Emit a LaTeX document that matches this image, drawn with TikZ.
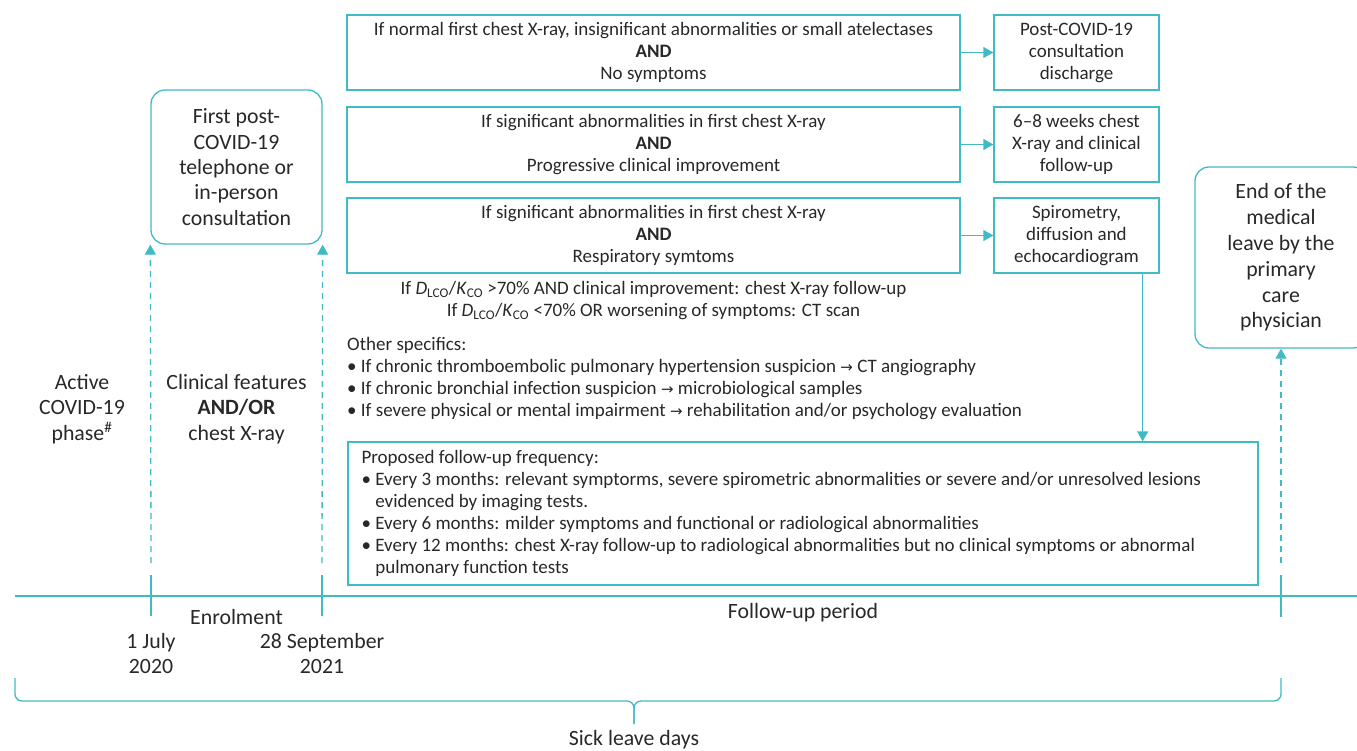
\documentclass[tikz,border=0pt]{standalone}
\usepackage{fontspec}
\setmainfont{Carlito}
\newfontfamily\dejavu{DejaVu Sans}
\usetikzlibrary{arrows.meta}
\definecolor{tealc}{RGB}{64,186,197}
\definecolor{txt}{RGB}{40,40,40}
\newcommand{\rarr}{{\dejavu\fontsize{15}{15}\selectfont →}}
\begin{document}
\begin{tikzpicture}[x=1pt,y=-1pt,
  sm/.style={font=\fontsize{19}{22}\selectfont, text=txt},
  bg/.style={font=\fontsize{21.8}{25.4}\selectfont, text=txt},
  cbox/.style={draw=tealc, line width=1.3pt, inner sep=0pt, align=center, sm},
  rbox/.style={draw=tealc, line width=1.3pt, inner sep=0pt, align=center, bg, rounded corners=14pt},
  arr/.style={draw=tealc, line width=1.3pt, -{Triangle[width=11pt,length=10pt]}},
  darr/.style={draw=tealc, line width=1.3pt, dash pattern=on 6pt off 5pt, -{Triangle[width=11pt,length=10pt]}},
  tline/.style={draw=tealc, line width=1.3pt},
]
\useasboundingbox (0,0) rectangle (1357,751);

% condition boxes
\node[cbox, minimum width=613, minimum height=75] (c1) at (653.5,52.5)
  {If normal first chest X-ray, insignificant abnormalities or small atelectases\\\textbf{AND}\\No symptoms};
\node[cbox, minimum width=613, minimum height=75] (c2) at (653.5,144.5)
  {If significant abnormalities in first chest X-ray\\\textbf{AND}\\Progressive clinical improvement};
\node[cbox, minimum width=613, minimum height=75] (c3) at (653.5,235.5)
  {If significant abnormalities in first chest X-ray\\\textbf{AND}\\Respiratory symtoms};

% result boxes
\node[cbox, minimum width=165, minimum height=75] (r1) at (1076.5,52.5)
  {Post-COVID-19\\consultation\\discharge};
\node[cbox, minimum width=165, minimum height=75] (r2) at (1076.5,144.5)
  {6--8 weeks chest\\X-ray and clinical\\follow-up};
\node[cbox, minimum width=165, minimum height=75] (r3) at (1076.5,235.5)
  {Spirometry,\\diffusion and\\echocardiogram};

\draw[arr] (c1.east) -- (r1.west);
\draw[arr] (c2.east) -- (r2.west);
\draw[arr] (c3.east) -- (r3.west);

% rounded boxes
\node[rbox, minimum width=171, minimum height=154] (fp) at (236.5,167)
  {First post-\\COVID-19\\telephone or\\in-person\\consultation};
\node[rbox, minimum width=172, minimum height=181, font=\fontsize{21.8}{25.8}\selectfont] (eb) at (1281,257.5)
  {End of the\\medical\\leave by the\\primary\\care\\physician};

% DLCO text
\node[sm, align=center] (dl) at (653.5,300.5)
  {If \textit{D}\textsubscript{LCO}/\textit{K}\textsubscript{CO} >70\% AND clinical improvement: chest X-ray follow-up\\
   If \textit{D}\textsubscript{LCO}/\textit{K}\textsubscript{CO} <70\% OR worsening of symptoms: CT scan};

% other specifics
\node[sm, align=left, anchor=west, inner sep=0pt] (os) at (347,378.5)
  {Other specifics:\\
   \textbullet\ If chronic thromboembolic pulmonary hypertension suspicion \rarr\ CT angiography\\
   \textbullet\ If chronic bronchial infection suspicion \rarr\ microbiological samples\\
   \textbullet\ If severe physical or mental impairment \rarr\ rehabilitation and/or psychology evaluation};

% follow-up frequency box
\node[draw=tealc, line width=1.3pt, minimum width=910, minimum height=143, inner sep=0pt] (fb) at (803,513.5) {};
\node[sm, align=left, anchor=west, inner sep=0pt] (fbt) at ([xshift=14pt]fb.west)
  {Proposed follow-up frequency:\\
   \textbullet\ Every 3 months: relevant symptorms, severe spirometric abnormalities or severe and/or unresolved lesions\\
   \hphantom{\textbullet\ }evidenced by imaging tests.\\
   \textbullet\ Every 6 months: milder symptoms and functional or radiological abnormalities\\
   \textbullet\ Every 12 months: chest X-ray follow-up to radiological abnormalities but no clinical symptoms or abnormal\\
   \hphantom{\textbullet\ }pulmonary function tests};

\draw[arr] ([xshift=-17pt]r3.south east) -- ([xshift=-17pt]r3.south east |- fb.north);

% left texts
\node[bg, align=center] (act) at (82,409) {Active\\COVID-19\\phase\textsuperscript{\#}};
\node[bg, align=center] (cf) at (236.5,409) {Clinical features\\\textbf{AND/OR}\\chest X-ray};

% timeline
\coordinate (tl) at (15,596);
\coordinate (tr) at (1357,596);
\draw[tline] (tl) -- (tr);
\coordinate (t1a) at (151,575); \coordinate (t1b) at (151,616);
\coordinate (t2a) at (322,575); \coordinate (t2b) at (322,616);
\coordinate (t3a) at (1281,575); \coordinate (t3b) at (1281,617);
\draw[tline] (t1a) -- (t1b);
\draw[tline] (t2a) -- (t2b);
\draw[tline] (t3a) -- (t3b);
\coordinate (d1) at (151,563);
\coordinate (d2) at (322,563);
\coordinate (d3) at (1281,563);
\draw[darr] (d1) -- (fp.south west);
\draw[darr] (d2) -- (fp.south east);
\draw[darr] (d3) -- (eb.south);

\node[bg] (enr) at (236.5,617) {Enrolment};
\node[bg, align=center] (dt1) at (151,653.5) {1 July\\2020};
\node[bg, align=center] (dt2) at (322,653.5) {28 September\\2021};
\node[bg] (fup) at (803,613) {Follow-up period};

% brace
\draw[tline, rounded corners=7pt] (15,678) -- (15,701) -- (634,701) -- (634,724);
\draw[tline, rounded corners=7pt] (1281,678) -- (1281,701) -- (634,701) -- (634,724);
\node[bg] (slv) at (634,740) {Sick leave days};
\end{tikzpicture}
\end{document}
